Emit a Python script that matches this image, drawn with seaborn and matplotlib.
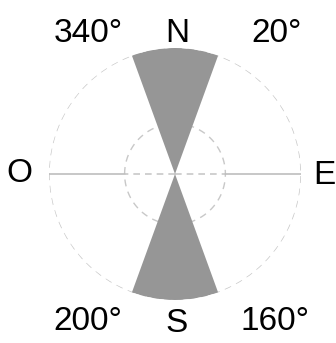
import numpy as np
import matplotlib
matplotlib.use("Agg")
import matplotlib.pyplot as plt
import seaborn as sns

# Sectors (compass degrees, clockwise from north)
sector_names = ["N", "S"]
sector_start = [340, 160]
sector_end = [20, 200]
sector_length = [1.0, 1.0]

ring_radii = [0.4, 1.0]

# corner / cardinal labels
label_texts = ["340°", "N", "20°", "O", "E", "200°", "S", "160°"]
label_pos = [(88, 33), (177, 33), (277, 33), (19, 174), (324, 176),
             (88, 322), (177, 324), (275, 322)]

sns.set_theme(style="white")
plt.rcParams["font.family"] = ["Liberation Sans", "DejaVu Sans"]

W, H = 336, 343
fig = plt.figure(figsize=(W / 100, H / 100), dpi=100)
ax = fig.add_axes([49 / W, 1 - 300 / H, 252 / W, 252 / H], projection="polar")
ax.set_theta_zero_location("N")
ax.set_theta_direction(-1)

grey = "#969696"
for start, end, length in zip(sector_start, sector_end, sector_length):
    width = (end - start) % 360
    center = np.deg2rad(start + width / 2)
    ax.bar(center, length, width=np.deg2rad(width), bottom=0,
           color=grey, edgecolor="none", align="center", zorder=2)

# dashed rings
tt = np.linspace(0, 2 * np.pi, 400)
for r in ring_radii:
    ax.plot(tt, np.full_like(tt, r), color="#c8c8c8", lw=1.0,
            ls=(0, (5, 4)), zorder=1)

# east-west line: solid outside inner ring, dashed inside
for a in [np.pi / 2, 3 * np.pi / 2]:
    ax.plot([a, a], [ring_radii[0], ring_radii[1]], color="#bdbdbd",
            lw=1.2, zorder=1)
    ax.plot([a, a], [0, ring_radii[0]], color="#c8c8c8", lw=1.2,
            ls=(0, (4, 3)), zorder=1)

ax.set_ylim(0, 1.0)
ax.set_xticks([])
ax.set_yticks([])
ax.grid(False)
ax.spines["polar"].set_visible(False)
ax.set_facecolor("none")

for txt, (px, py) in zip(label_texts, label_pos):
    fig.text(px / W, 1 - py / H, txt, ha="center", va="center",
             fontsize=24, color="black")

fig.savefig("out.png", dpi=100)
